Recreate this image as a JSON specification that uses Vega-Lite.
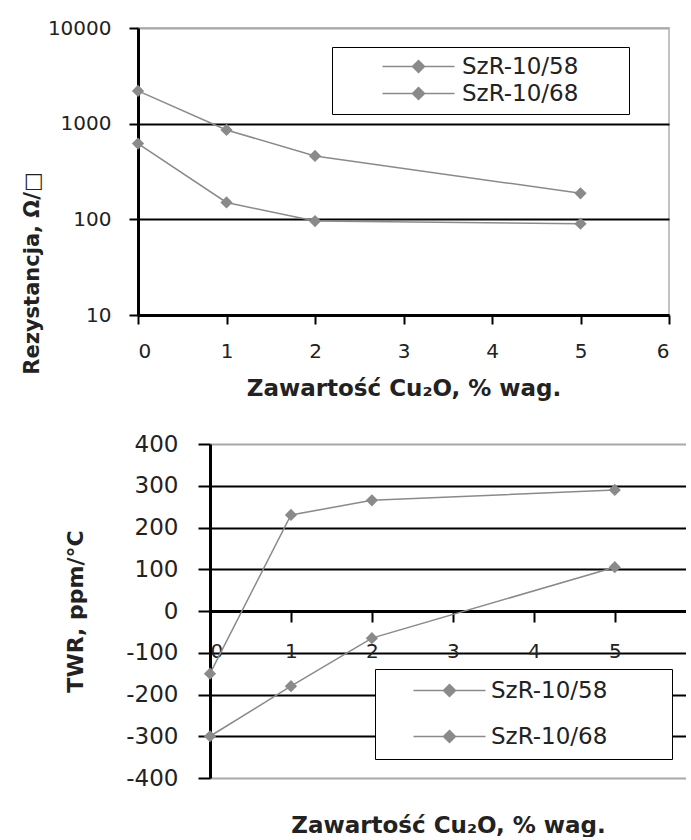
{
  "$schema": "https://vega.github.io/schema/vega-lite/v6.json",
  "background": "white",
  "padding": {"left": 20, "top": 17, "right": 0, "bottom": 0},
  "config": {
    "font": "DejaVu Sans",
    "view": {"stroke": "#b0b0b0", "strokeWidth": 1.5},
    "axis": {
      "domainColor": "#000000",
      "domainWidth": 3,
      "tickColor": "#000000",
      "tickWidth": 2,
      "labelColor": "#222222",
      "titleColor": "#222222",
      "labelFont": "DejaVu Sans",
      "titleFont": "DejaVu Sans"
    },
    "legend": {
      "labelFont": "DejaVu Sans",
      "labelColor": "#222222",
      "labelFontSize": 23,
      "strokeColor": "#000000",
      "fillColor": "#ffffff",
      "symbolType": "M-6,0H6M0,-1L1,0L0,1L-1,0Z",
      "symbolSize": 144,
      "symbolStrokeWidth": 1.5,
      "symbolFillColor": "#666666",
      "symbolStrokeColor": "#888888",
      "titleOrient": "right",
      "titleFontSize": 10
    }
  },
  "datasets": {
    "resistance": [
      {"x": 0, "r": 2200, "series": "SzR-10/58"},
      {"x": 1, "r": 860, "series": "SzR-10/58"},
      {"x": 2, "r": 460, "series": "SzR-10/58"},
      {"x": 5, "r": 187, "series": "SzR-10/58"},
      {"x": 0, "r": 620, "series": "SzR-10/68"},
      {"x": 1, "r": 150, "series": "SzR-10/68"},
      {"x": 2, "r": 96, "series": "SzR-10/68"},
      {"x": 5, "r": 90, "series": "SzR-10/68"}
    ],
    "twr": [
      {"x": 0, "t": -150, "series": "SzR-10/58"},
      {"x": 1, "t": 230, "series": "SzR-10/58"},
      {"x": 2, "t": 265, "series": "SzR-10/58"},
      {"x": 5, "t": 290, "series": "SzR-10/58"},
      {"x": 0, "t": -300, "series": "SzR-10/68"},
      {"x": 1, "t": -180, "series": "SzR-10/68"},
      {"x": 2, "t": -65, "series": "SzR-10/68"},
      {"x": 5, "t": 105, "series": "SzR-10/68"}
    ]
  },
  "bounds": "flush",
  "spacing": 129,
  "resolve": {
    "scale": {"color": "independent", "x": "independent", "y": "independent"},
    "legend": {"color": "independent"}
  },
  "vconcat": [
    {
      "width": 531,
      "height": 287,
      "data": {"name": "resistance"},
      "mark": {
        "type": "line",
        "strokeWidth": 1.5,
        "point": {"shape": "diamond", "filled": true, "size": 150, "color": "#6b6b6b"}
      },
      "encoding": {
        "x": {
          "field": "x",
          "type": "quantitative",
          "scale": {"domain": [0, 6], "nice": false},
          "axis": {
            "values": [0, 1, 2, 3, 4, 5, 6],
            "format": "d",
            "grid": false,
            "tickSize": 9,
            "labelFontSize": 20,
            "labelPadding": 17,
            "title": "Zawartość Cu₂O, % wag.",
            "titleFontSize": 23,
            "titleFontWeight": "bold",
            "titlePadding": 16
          }
        },
        "y": {
          "field": "r",
          "type": "quantitative",
          "scale": {"type": "log", "domain": [10, 10000], "nice": false},
          "axis": {
            "values": [10, 100, 1000, 10000],
            "format": "d",
            "grid": true,
            "gridColor": {"condition": {"test": "datum.value === 10000", "value": "#a8a8a8"}, "value": "#000000"},
            "gridWidth": 2,
            "tickSize": 9,
            "labelFontSize": 20,
            "labelPadding": 18,
            "title": "Rezystancja, Ω/□",
            "titleFontSize": 21,
            "titleFontWeight": "bold",
            "titleX": -96,
            "titleY": 245
          }
        },
        "color": {
          "field": "series",
          "type": "nominal",
          "scale": {"range": ["#8a8a8a", "#8a8a8a"]},
          "legend": {
            "orient": "none",
            "legendX": 194,
            "legendY": 19,
            "title": " ",
            "titlePadding": 43,
            "padding": 8,
            "rowPadding": 3,
            "symbolOffset": 67,
            "labelOffset": 32
          }
        }
      }
    },
    {
      "bounds": "flush",
      "spacing": 0,
      "resolve": {
        "scale": {"color": "independent", "x": "independent", "y": "independent"},
        "legend": {"color": "independent"}
      },
      "hconcat": [
        {
          "width": 72,
          "height": 10,
          "data": {"values": []},
          "mark": "point",
          "view": {"stroke": null}
        },
        {
          "width": 476,
          "height": 334,
          "view": {"stroke": null},
          "data": {"name": "twr"},
          "mark": {
            "type": "line",
            "strokeWidth": 1.5,
            "point": {"shape": "diamond", "filled": true, "size": 150, "color": "#6b6b6b"}
          },
          "encoding": {
            "x": {
              "field": "x",
              "type": "quantitative",
              "scale": {"domain": [0, 5.88], "nice": false},
              "axis": {
                "values": [0, 1, 2, 3, 4, 5],
                "format": "d",
                "grid": false,
                "offset": -167,
                "tickSize": 11,
                "labelFontSize": 20,
                "labelPadding": 19,
                "title": "Zawartość Cu₂O, % wag.",
                "titleFontSize": 23,
                "titleFontWeight": "bold",
                "titleY": 203,
                "titleBaseline": "top"
              }
            },
            "y": {
              "field": "t",
              "type": "quantitative",
              "scale": {"domain": [-400, 400], "nice": false},
              "axis": {
                "values": [-400, -300, -200, -100, 0, 100, 200, 300, 400],
                "labelExpr": "datum.value < 0 ? '-' + abs(datum.value) : '' + datum.value",
                "grid": true,
                "gridColor": {"condition": {"test": "abs(datum.value) === 400", "value": "#a8a8a8"}, "value": "#000000"},
                "gridWidth": 2,
                "tickSize": 12,
                "labelFontSize": 23,
                "labelPadding": 20,
                "title": "TWR, ppm/°C",
                "titleFontSize": 22,
                "titleFontWeight": "bold",
                "titleX": -123
              }
            },
            "color": {
              "field": "series",
              "type": "nominal",
              "scale": {"range": ["#8a8a8a", "#8a8a8a"]},
              "legend": {
                "orient": "none",
                "legendX": 165,
                "legendY": 225,
                "title": " ",
                "titlePadding": 55,
                "padding": 10,
                "rowPadding": 22,
                "symbolOffset": 53,
                "labelOffset": 30
              }
            }
          }
        }
      ]
    }
  ]
}
